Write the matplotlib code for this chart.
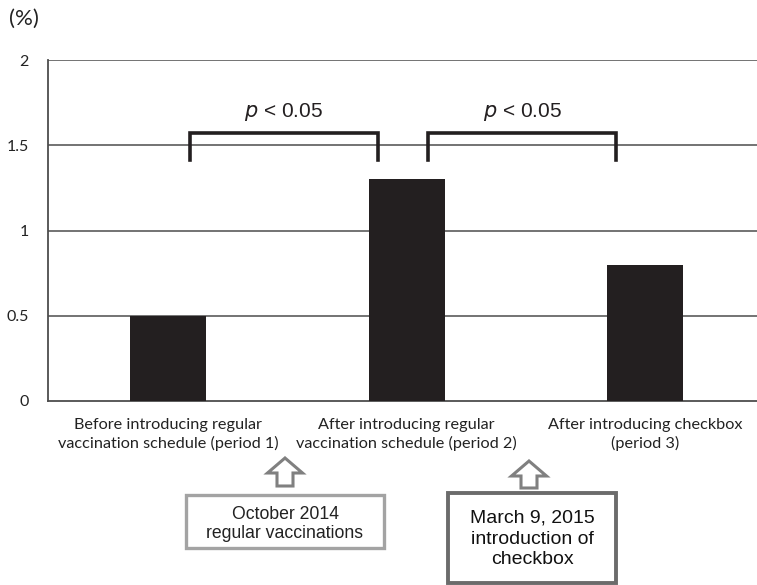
import numpy as np
import matplotlib
matplotlib.use("Agg")
import matplotlib.pyplot as plt
from matplotlib.patches import Polygon, Rectangle

W, H = 757, 585
BAR = "#231f20"
GRID = "#4d4d4d"

categories = ["Before introducing regular\nvaccination schedule (period 1)",
              "After introducing regular\nvaccination schedule (period 2)",
              "After introducing checkbox\n(period 3)"]
values = [0.5, 1.3, 0.8]
yticks = [0, 0.5, 1, 1.5, 2]
ytick_labels = ["0", "0.5", "1", "1.5", "2"]
# significance brackets: (from category, to category, label)
brackets = [(0, 1, "$\\it{p}$ < 0.05"), (1, 2, "$\\it{p}$ < 0.05")]
events = ["October 2014\nregular vaccinations",
          "March 9, 2015\nintroduction of\ncheckbox"]


def px(x, y):
    # pixel position (top-left origin) -> figure fraction
    return (x / W, 1 - y / H)


fig = plt.figure(figsize=(W / 100, H / 100), dpi=100)
ax = fig.add_axes([48 / W, 1 - 401 / H, 1 - 48 / W, (401 - 60) / H])

xs = np.arange(len(values)) + 0.5
ax.bar(xs, values, width=0.32, color=BAR, zorder=3)
ax.set_xlim(-0.005, 2.97)
ax.set_ylim(0, 2)
ax.set_yticks(yticks)
ax.set_yticklabels(ytick_labels, family="Lato", fontsize=11.5, color="#222222")
ax.set_xticks(xs)
ax.set_xticklabels(categories, family="Lato", fontsize=11.7, color="#222222", linespacing=1.35)
ax.tick_params(length=0)
ax.tick_params(axis="y", pad=14)
ax.tick_params(axis="x", pad=12)
for y in yticks[1:]:
    ax.axhline(y, color=GRID, lw=1.1, zorder=1)
for s in ("top", "right"):
    ax.spines[s].set_visible(False)
for s in ("left", "bottom"):
    ax.spines[s].set_color(GRID)
    ax.spines[s].set_linewidth(1.3)

# brackets
for (a, b, lab) in brackets:
    x0 = xs[a] + 0.09
    x1 = xs[b] - 0.12
    ax.plot([x0, x0, x1, x1], [1.413, 1.572, 1.572, 1.413], color=BAR, lw=2.6,
            solid_joinstyle="miter", zorder=4)
    ax.text((x0 + x1) / 2, 1.63, lab, ha="center", va="bottom", fontsize=15,
            family="Liberation Sans", color=BAR)

fig.text(*px(9, 19), "(%)", ha="left", va="center", fontsize=16, family="Lato",
         color="#222222")


# hollow up-arrows under the category labels
def up_arrow(cx, tip, bottom, head_w=35, shaft_w=16, head_h=15):
    pts = [(cx, tip), (cx + head_w / 2, tip + head_h), (cx + shaft_w / 2, tip + head_h),
           (cx + shaft_w / 2, bottom), (cx - shaft_w / 2, bottom),
           (cx - shaft_w / 2, tip + head_h), (cx - head_w / 2, tip + head_h)]
    fig.patches.append(Polygon([px(*p) for p in pts], closed=True, transform=fig.transFigure,
                               facecolor="white", edgecolor="#808080", lw=2.2,
                               joinstyle="miter"))


up_arrow(285, 458, 486)
up_arrow(529, 461, 488)

# event boxes
fig.patches.append(Rectangle(px(186, 548), 198 / W, 53 / H, transform=fig.transFigure,
                             facecolor="white", edgecolor="#a3a3a3", lw=2.4))
fig.text(*px(285, 524), events[0], ha="center", va="center", fontsize=12.7,
         family="Liberation Sans", color="#222222", linespacing=1.2)
fig.patches.append(Rectangle(px(448, 583), 168 / W, 90 / H, transform=fig.transFigure,
                             facecolor="white", edgecolor="#6b6b6b", lw=2.8))
fig.text(*px(532, 539), events[1], ha="center", va="center", fontsize=14,
         family="Liberation Sans", color="#111111", linespacing=1.3)

fig.savefig("out.png", dpi=100)
